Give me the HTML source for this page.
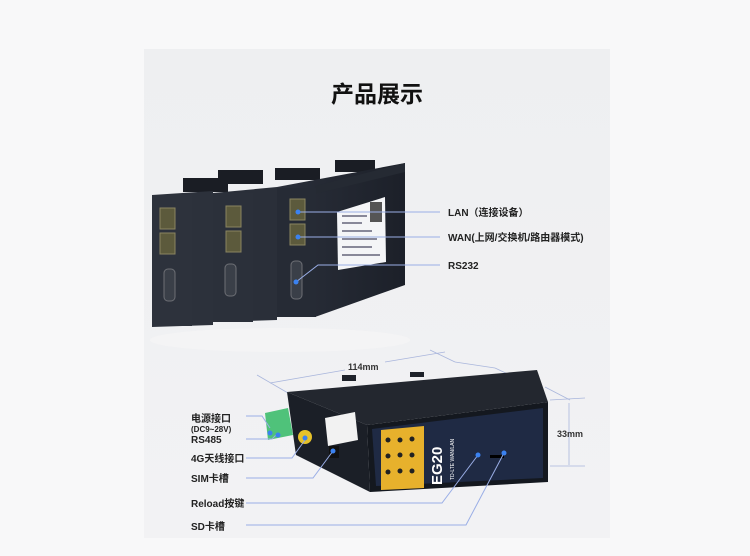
<!DOCTYPE html>
<html><head><meta charset="utf-8"><style>
html,body{margin:0;padding:0;background:#f8f8f9;}
svg{display:block;font-family:"Liberation Sans","Noto Sans CJK SC",sans-serif;}
</style></head><body>
<svg width="750" height="556" viewBox="0 0 750 556" xmlns="http://www.w3.org/2000/svg">
<defs>
<linearGradient id="bg" x1="0" y1="0" x2="0" y2="1"><stop offset="0" stop-color="#eeeff1"/><stop offset="1" stop-color="#f2f2f4"/></linearGradient>
<linearGradient id="side" x1="0" y1="0" x2="1" y2="0"><stop offset="0" stop-color="#2a2f3a"/><stop offset="1" stop-color="#1c2029"/></linearGradient>
</defs>
<rect width="750" height="556" fill="#f8f8f9"/>
<rect x="144" y="49" width="466" height="489" fill="url(#bg)"/>
<text x="377" y="102" text-anchor="middle" font-size="23" font-weight="bold" fill="#111">产品展示</text>

<g>
<rect x="183" y="178" width="45" height="14" fill="#1a1d24"/>
<rect x="218" y="170" width="45" height="14" fill="#1a1d24"/>
<rect x="275" y="168" width="45" height="12" fill="#1a1d24"/>
<rect x="335" y="160" width="40" height="12" fill="#1a1d24"/>
<polygon points="277,187 405,163 405,285 315,317 277,317" fill="url(#side)"/>
<polygon points="315,186 405,163 405,172 315,194" fill="#252a33"/>
<rect x="277" y="188" width="39" height="129" fill="#262b35"/>
<polygon points="213,193 277,187 277,320 213,322" fill="#2a2f39"/>
<rect x="213" y="193" width="40" height="129" fill="#2b303a"/>
<polygon points="152,195 213,191 213,325 152,327" fill="#2c313b"/>
<rect x="152" y="195" width="40" height="131" fill="#2d323c"/>
<g fill="#5c5a3c" stroke="#8a8460" stroke-width="1">
<rect x="160" y="208" width="15" height="21"/><rect x="160" y="233" width="15" height="21"/>
<rect x="226" y="206" width="15" height="21"/><rect x="226" y="231" width="15" height="21"/>
<rect x="290" y="199" width="15" height="21"/><rect x="290" y="224" width="15" height="21"/>
</g>
<g fill="#3a3f48" stroke="#6d6f75" stroke-width="1">
<rect x="164" y="269" width="11" height="32" rx="4"/>
<rect x="225" y="264" width="11" height="32" rx="4"/>
<rect x="291" y="261" width="11" height="38" rx="4"/>
</g>
<polygon points="337,212 385,197 386,262 338,270" fill="#f4f5f7"/>
<g fill="#889">
<rect x="342" y="215" width="25" height="2"/><rect x="342" y="222" width="20" height="2"/><rect x="342" y="230" width="30" height="2"/><rect x="342" y="238" width="35" height="2"/><rect x="342" y="246" width="30" height="2"/><rect x="342" y="254" width="38" height="2"/>
<rect x="370" y="202" width="12" height="20" fill="#555"/>
</g>
</g>
<ellipse cx="280" cy="340" rx="130" ry="12" fill="#f6f6f7" opacity="0.6"/>

<g stroke="#9aaee6" stroke-width="1" fill="none">
<line x1="298" y1="212" x2="440" y2="212"/>
<line x1="298" y1="237" x2="440" y2="237"/>
<polyline points="296,282 318,265 440,265"/>
</g>
<g fill="#3b82f0"><circle cx="298" cy="212" r="2.5"/><circle cx="298" cy="237" r="2.5"/><circle cx="296" cy="282" r="2.5"/></g>
<g font-size="10" font-weight="bold" fill="#222">
<text x="448" y="216">LAN（连接设备）</text>
<text x="448" y="241">WAN(上网/交换机/路由器模式)</text>
<text x="448" y="269">RS232</text>
</g>

<g stroke="#a9b6dc" stroke-width="0.8" fill="none">
<line x1="257" y1="375" x2="288" y2="393"/>
<line x1="270" y1="383" x2="345" y2="370"/>
<line x1="385" y1="362" x2="445" y2="352"/>
<line x1="430" y1="350" x2="455" y2="362"/>
<line x1="455" y1="362" x2="495" y2="368"/>
<line x1="495" y1="368" x2="510" y2="375"/>
<line x1="545" y1="387" x2="570" y2="400"/>
<line x1="550" y1="400" x2="585" y2="398"/>
<line x1="550" y1="466" x2="585" y2="466"/>
<line x1="569" y1="403" x2="569" y2="465"/>
</g>
<g font-size="9" font-weight="bold" fill="#333">
<text x="348" y="370">114mm</text>
<text x="515" y="381" transform="rotate(18 515 381)">83mm</text>
<text x="557" y="437">33mm</text>
</g>

<rect x="342" y="375" width="14" height="6" fill="#1e222a"/>
<rect x="410" y="372" width="14" height="5" fill="#1e222a"/>
<polygon points="287,392 537,370 548,402 367,425" fill="#23272f"/>
<polygon points="287,392 367,425 370,492 296,455" fill="#1b1f27"/>
<polygon points="367,425 548,402 548,482 370,492" fill="#14181f"/>
<polygon points="372,429 543,408 543,478 376,486" fill="#1f2a44"/>
<polygon points="381,430 424,426 424,488 381,490" fill="#e7b12c"/>
<g fill="#222">
<circle cx="388" cy="440" r="2.5"/><circle cx="400" cy="440" r="2.5"/><circle cx="412" cy="439" r="2.5"/>
<circle cx="388" cy="456" r="2.5"/><circle cx="400" cy="455" r="2.5"/><circle cx="412" cy="455" r="2.5"/>
<circle cx="388" cy="472" r="2.5"/><circle cx="400" cy="471" r="2.5"/><circle cx="412" cy="471" r="2.5"/>
</g>
<text x="442" y="485" transform="rotate(-90 442 485)" font-size="15" font-weight="bold" fill="#fff">EG20</text>
<text x="454" y="480" transform="rotate(-90 454 480)" font-size="5" fill="#fff">TD-LTE WAN/LAN</text>
<rect x="490" y="455" width="14" height="3" fill="#000"/>
<polygon points="325,418 355,412 358,440 328,446" fill="#f2f2f2"/>
<rect x="329" y="446" width="10" height="12" fill="#111"/>
<polygon points="265,413 288,408 293,435 268,440" fill="#4fc27a"/>
<circle cx="305" cy="437" r="7" fill="#e6c22a"/>

<g stroke="#9aaee6" stroke-width="1" fill="none">
<polyline points="246,416 262,416 270,428"/>
<polyline points="246,439 272,439 277,434"/>
<polyline points="246,458 292,458 305,440"/>
<polyline points="246,478 313,478 333,451"/>
<polyline points="246,503 442,503 478,455"/>
<polyline points="246,525 466,525 504,453"/>
</g>
<g fill="#3b82f0"><circle cx="270" cy="433" r="2.5"/><circle cx="278" cy="435" r="2.5"/><circle cx="305" cy="438" r="2.5"/><circle cx="333" cy="451" r="2.5"/><circle cx="478" cy="455" r="2.5"/><circle cx="504" cy="453" r="2.5"/></g>
<g font-size="10" font-weight="bold" fill="#222">
<text x="191" y="422">电源接口</text>
<text x="191" y="432" font-size="8">(DC9~28V)</text>
<text x="191" y="443">RS485</text>
<text x="191" y="462">4G天线接口</text>
<text x="191" y="482">SIM卡槽</text>
<text x="191" y="507">Reload按键</text>
<text x="191" y="530">SD卡槽</text>
</g>
</svg>
</body></html>
